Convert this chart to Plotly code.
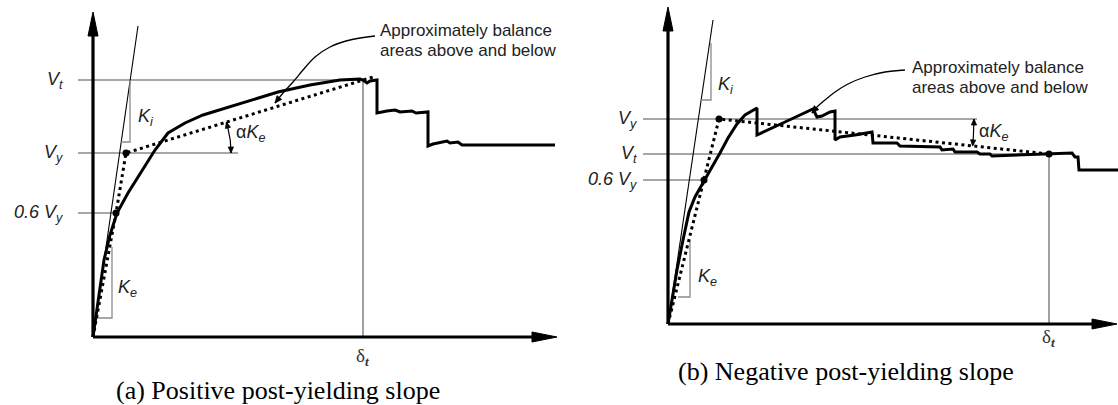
import numpy as np
import plotly.graph_objects as go

# ---------------- Panel (a): positive post-yielding slope ----------------
# drawing units: displacement to the right, shear force upward, origin at the axes corner
a_curve_d = [0, 5, 11, 17, 24, 35, 49, 62, 75, 92, 110, 147, 185, 217, 247, 267, 270, 274, 277, 284,
             284, 294, 302, 307, 319, 323, 335, 335, 340, 354, 357, 365, 369, 462]
a_curve_v = [0, 37, 77, 102, 124, 144, 167, 187, 204, 214, 222, 233, 245, 252, 257, 258, 257, 254, 256, 257,
             224, 226, 227, 225, 226, 224, 225, 191, 193, 196, 194, 195, 192, 192]
a_bilin_d = [0, 23, 33, 280]
a_bilin_v = [0, 124, 184, 260]
a_Vt, a_Vy, a_V06, a_dt = 257, 184, 124, 270
a_ki_end = (45, 311)
a_axis_tip = (464, 325)
a_leader_d = [282, 257, 237, 222, 210, 200, 190, 182]
a_leader_v = [301, 297, 290, 280, 267, 255, 244, 234]

# ---------------- Panel (b): negative post-yielding slope ----------------
b_curve_d = [0, 4, 9, 15, 21, 27, 37, 44, 52, 60, 69, 77, 89, 89, 117, 145, 149, 154, 162, 167,
             167, 172, 187, 204, 205, 229, 232, 272, 274, 285, 287, 309, 312, 322, 324, 359, 382, 404, 407, 410,
             411, 450]
b_curve_v = [0, 24, 54, 84, 112, 127, 144, 157, 171, 186, 200, 209, 216, 189, 202, 215, 207, 208, 212, 213,
             184, 187, 189, 192, 181, 181, 178, 177, 174, 175, 172, 172, 170, 170, 168, 169, 170, 171, 167, 167,
             154, 154]
b_bilin_d = [0, 36, 51, 381]
b_bilin_v = [0, 144, 205, 170]
b_Vt, b_Vy, b_V06, b_dt = 170, 205, 144, 381
b_ki_end = (45, 304)
b_axis_tip = (449, 317)
b_leader_d = [237, 217, 197, 180, 167, 157, 149, 144]
b_leader_v = [254, 252, 247, 240, 232, 224, 217, 211]

SANS = "Liberation Sans, Arial, sans-serif"
SERIF = "Liberation Serif, Times New Roman, serif"
GRAY = "#8a8a8a"

fig = go.Figure()
annotations = []


def add_line(x, y, ax, color="black", width=1.0, dash=None, fill=None, shape="linear"):
    fig.add_trace(go.Scatter(
        x=list(x), y=list(y), mode="lines", xaxis=ax[0], yaxis=ax[1],
        line=dict(color=color, width=width, dash=dash, shape=shape),
        fill=fill, fillcolor=color if fill else None,
        hoverinfo="skip", showlegend=False))


def add_text(ax, x, y, text, size=18, family=SANS, xanchor="left", yanchor="middle", color="#222222"):
    annotations.append(dict(xref=ax[0], yref=ax[1], x=x, y=y, text=text, showarrow=False,
                            xanchor=xanchor, yanchor=yanchor,
                            font=dict(family=family, size=size, color=color)))


def add_head(ax, tip, tail, length=7.0, half=3.0):
    """Small filled arrowhead at `tip`, pointing away from `tail`."""
    tip = np.asarray(tip, float)
    u = tip - np.asarray(tail, float)
    u /= np.hypot(*u)
    base = tip - length * u
    perp = np.array([-u[1], u[0]])
    p1, p2 = base + half * perp, base - half * perp
    add_line([tip[0], p1[0], p2[0], tip[0]], [tip[1], p1[1], p2[1], tip[1]], ax, "black", 0.8, fill="toself")


def panel(ax, curve_d, curve_v, bil_d, bil_v, Vt, Vy, V06, dt, ki_end, tip,
          leader_d, leader_v, label_x, line_x0, vy_line_end, ki_tri, ke_tri, ki_lbl, ke_lbl,
          ake_lbl, callout_xy, arc_r, caption, caption_xy, dt_lbl_y):
    # reference levels
    add_line([line_x0, dt], [Vt, Vt], ax, GRAY, 1.6)
    add_line([line_x0, vy_line_end], [Vy, Vy], ax, GRAY, 1.6)
    add_line([line_x0, bil_d[1]], [V06, V06], ax, GRAY, 1.6)
    add_line([dt, dt], [0, Vt], ax, GRAY, 1.6)

    # initial stiffness Ki and the slope triangles
    add_line([0, ki_end[0]], [0, ki_end[1]], ax, "black", 1.1)
    (kx0, kx1, ky0, ky1) = ki_tri
    add_line([kx0, kx1, kx1], [ky0, ky0, ky1], ax, GRAY, 1.3)
    (ex0, ex1, ey0, ey1) = ke_tri
    add_line([ex0, ex1, ex1], [ey0, ey0, ey1], ax, GRAY, 1.3)

    # axes with arrowheads
    add_line([0, 0], [0, tip[1] - 20], ax, "black", 3.2)
    add_line([0, tip[0] - 20], [0, 0], ax, "black", 3.2)
    add_line([-5, 5, 0, -5], [tip[1] - 24, tip[1] - 24, tip[1], tip[1] - 24], ax, "black", 1, fill="toself")
    add_line([tip[0] - 25, tip[0] - 25, tip[0], tip[0] - 25], [-5, 5, 0, -5], ax, "black", 1, fill="toself")

    # measured curve and idealised bilinear curve
    add_line(curve_d, curve_v, ax, "black", 3.0)
    add_line(bil_d, bil_v, ax, "black", 3.0, dash="3px,3.5px")
    dots_d = [bil_d[1], bil_d[2]] + ([bil_d[3]] if bil_v[3] < bil_v[2] else [])
    dots_v = [bil_v[1], bil_v[2]] + ([bil_v[3]] if bil_v[3] < bil_v[2] else [])
    fig.add_trace(go.Scatter(x=dots_d, y=dots_v, mode="markers", xaxis=ax[0], yaxis=ax[1],
                             marker=dict(color="black", size=7), hoverinfo="skip", showlegend=False))

    # alpha*Ke arc between the yield level and the post-yield branch
    ang = np.arctan2(bil_v[3] - bil_v[2], bil_d[3] - bil_d[2])
    th = np.linspace(0, ang, 20)
    arc_x = bil_d[2] + arc_r * np.cos(th)
    arc_y = bil_v[2] + arc_r * np.sin(th)
    add_line(arc_x, arc_y, ax, "black", 1.2)
    add_head(ax, (arc_x[0], arc_y[0]), (arc_x[3], arc_y[3]), 6, 2.6)
    add_head(ax, (arc_x[-1], arc_y[-1]), (arc_x[-4], arc_y[-4]), 6, 2.6)

    # callout leader
    add_line(leader_d, leader_v, ax, "black", 1.3, shape="spline")
    add_head(ax, (leader_d[-1], leader_v[-1]), (leader_d[-2], leader_v[-2]), 7, 3)

    # labels
    add_text(ax, label_x, Vt, "<i>V<sub>t</sub></i>", xanchor="right")
    add_text(ax, label_x, Vy, "<i>V<sub>y</sub></i>", xanchor="right")
    add_text(ax, label_x, V06, "<i>0.6 V<sub>y</sub></i>", xanchor="right")
    add_text(ax, ki_lbl[0], ki_lbl[1], "<i>K<sub>i</sub></i>")
    add_text(ax, ke_lbl[0], ke_lbl[1], "<i>K<sub>e</sub></i>")
    add_text(ax, ake_lbl[0], ake_lbl[1], "\u03b1<i>K<sub>e</sub></i>")
    add_text(ax, callout_xy[0], callout_xy[1], "Approximately balance", size=17)
    add_text(ax, callout_xy[0], callout_xy[1] - 20, "areas above and below", size=17)
    add_text(ax, dt, dt_lbl_y, "\u03b4<sub><b><i>t</i></b></sub>", size=19, family=SERIF,
             xanchor="center", color="#333333")
    add_text(ax, caption_xy[0], caption_xy[1], caption, size=26, family=SERIF,
             xanchor="center", color="black")


panel(("x", "y"), a_curve_d, a_curve_v, a_bilin_d, a_bilin_v, a_Vt, a_Vy, a_V06, a_dt,
      a_ki_end, a_axis_tip, a_leader_d, a_leader_v,
      label_x=-28, line_x0=-15, vy_line_end=145, ki_tri=(28, 37, 195, 257), ke_tri=(4, 19, 19, 90),
      ki_lbl=(43, 220), ke_lbl=(23, 49), ake_lbl=(141, 204), callout_xy=(285, 307), arc_r=105,
      caption="(a) Positive post-yielding slope", caption_xy=(185, -53), dt_lbl_y=-20)

panel(("x2", "y2"), b_curve_d, b_curve_v, b_bilin_d, b_bilin_v, b_Vt, b_Vy, b_V06, b_dt,
      b_ki_end, b_axis_tip, b_leader_d, b_leader_v,
      label_x=-29, line_x0=-25, vy_line_end=309, ki_tri=(33, 43, 224, 281), ke_tri=(10, 22, 27, 84),
      ki_lbl=(48, 239), ke_lbl=(28, 47), ake_lbl=(309, 192), callout_xy=(242, 257), arc_r=255,
      caption="(b) Negative post-yielding slope", caption_xy=(178, -47), dt_lbl_y=-14)

hidden = dict(visible=False, fixedrange=True)
fig.update_layout(
    width=1118, height=405,
    margin=dict(l=0, r=0, t=0, b=0),
    paper_bgcolor="white", plot_bgcolor="rgba(0,0,0,0)",
    xaxis=dict(domain=[0, 0.5], range=[-93, 466], **hidden),
    yaxis=dict(domain=[0, 1], range=[-68, 337], **hidden),
    xaxis2=dict(domain=[0.5, 1], range=[-109, 450], anchor="y2", **hidden),
    yaxis2=dict(domain=[0, 1], range=[-81, 324], anchor="x2", **hidden),
    annotations=annotations,
    showlegend=False,
)

fig.write_html("out.html")
